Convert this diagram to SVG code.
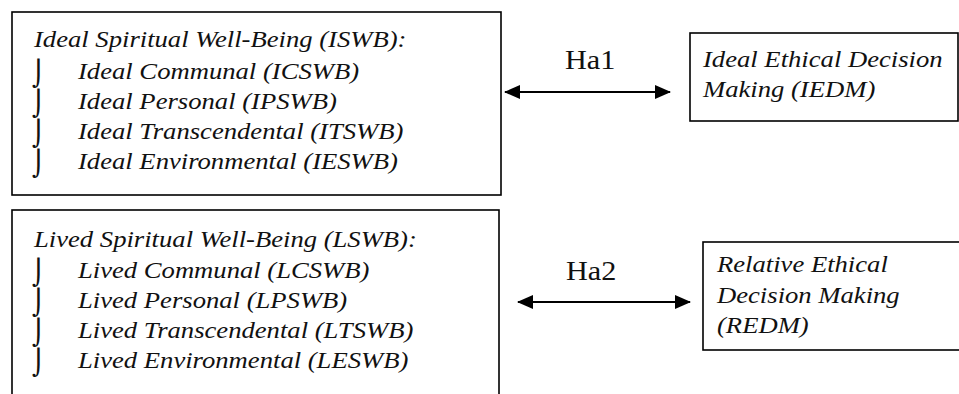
<svg xmlns="http://www.w3.org/2000/svg" width="959" height="394" viewBox="0 0 959 394">
  <style>
    .box { fill: #fff; stroke: #000; stroke-width: 1.6; }
    .it { font-family: "Liberation Serif", "Times New Roman", serif; font-style: italic; font-size: 24px; fill: #111; }
    .lbl { font-family: "Liberation Serif", "Times New Roman", serif; font-size: 28px; fill: #111; }
    .bul { font-family: "DejaVu Serif", serif; font-size: 25px; fill: #111; }
    .conn { stroke: #000; stroke-width: 2; fill: none; }
  </style>
  <defs>
    <marker id="head" viewBox="0 0 16 14" refX="15" refY="7" markerWidth="16" markerHeight="14" markerUnits="userSpaceOnUse" orient="auto-start-reverse">
      <path d="M0,0 L16,7 L0,14 Z" fill="#000"/>
    </marker>
  </defs>
  <rect width="959" height="394" fill="#fff"/>

  <g id="iswb">
    <rect class="box" x="12" y="12" width="489" height="183"/>
    <text class="it" transform="translate(34,47) scale(1.11,1)">Ideal Spiritual Well-Being (ISWB):</text>
    <text class="bul" x="32" y="82">⌡</text>
    <text class="it" transform="translate(78,79) scale(1.11,1)">Ideal Communal (ICSWB)</text>
    <text class="bul" x="32" y="112">⌡</text>
    <text class="it" transform="translate(78,109) scale(1.11,1)">Ideal Personal (IPSWB)</text>
    <text class="bul" x="32" y="142">⌡</text>
    <text class="it" transform="translate(78,139) scale(1.11,1)">Ideal Transcendental (ITSWB)</text>
    <text class="bul" x="32" y="172">⌡</text>
    <text class="it" transform="translate(78,169) scale(1.11,1)">Ideal Environmental (IESWB)</text>
  </g>

  <g id="lswb">
    <rect class="box" x="12" y="210" width="487" height="200"/>
    <text class="it" transform="translate(34,247) scale(1.11,1)">Lived Spiritual Well-Being (LSWB):</text>
    <text class="bul" x="32" y="281">⌡</text>
    <text class="it" transform="translate(78,278) scale(1.11,1)">Lived Communal (LCSWB)</text>
    <text class="bul" x="32" y="311">⌡</text>
    <text class="it" transform="translate(78,308) scale(1.11,1)">Lived Personal (LPSWB)</text>
    <text class="bul" x="32" y="341">⌡</text>
    <text class="it" transform="translate(78,338) scale(1.11,1)">Lived Transcendental (LTSWB)</text>
    <text class="bul" x="32" y="371">⌡</text>
    <text class="it" transform="translate(78,368) scale(1.11,1)">Lived Environmental (LESWB)</text>
  </g>

  <g id="iedm">
    <rect class="box" x="690" y="33" width="268" height="88"/>
    <text class="it" transform="translate(703,67) scale(1.11,1)">Ideal Ethical Decision</text>
    <text class="it" transform="translate(703,97) scale(1.11,1)">Making (IEDM)</text>
  </g>

  <g id="redm">
    <rect class="box" x="703" y="242" width="260" height="108"/>
    <text class="it" transform="translate(717,272) scale(1.11,1)">Relative Ethical</text>
    <text class="it" transform="translate(717,303) scale(1.11,1)">Decision Making</text>
    <text class="it" transform="translate(717,333) scale(1.11,1)">(REDM)</text>
  </g>

  <g id="connectors">
    <line class="conn" x1="505" y1="92" x2="670" y2="92" marker-start="url(#head)" marker-end="url(#head)"/>
    <text class="lbl" transform="translate(565,69) scale(1.08,1)">Ha1</text>
    <line class="conn" x1="518" y1="302" x2="690" y2="302" marker-start="url(#head)" marker-end="url(#head)"/>
    <text class="lbl" transform="translate(566,280) scale(1.08,1)">Ha2</text>
  </g>
</svg>
